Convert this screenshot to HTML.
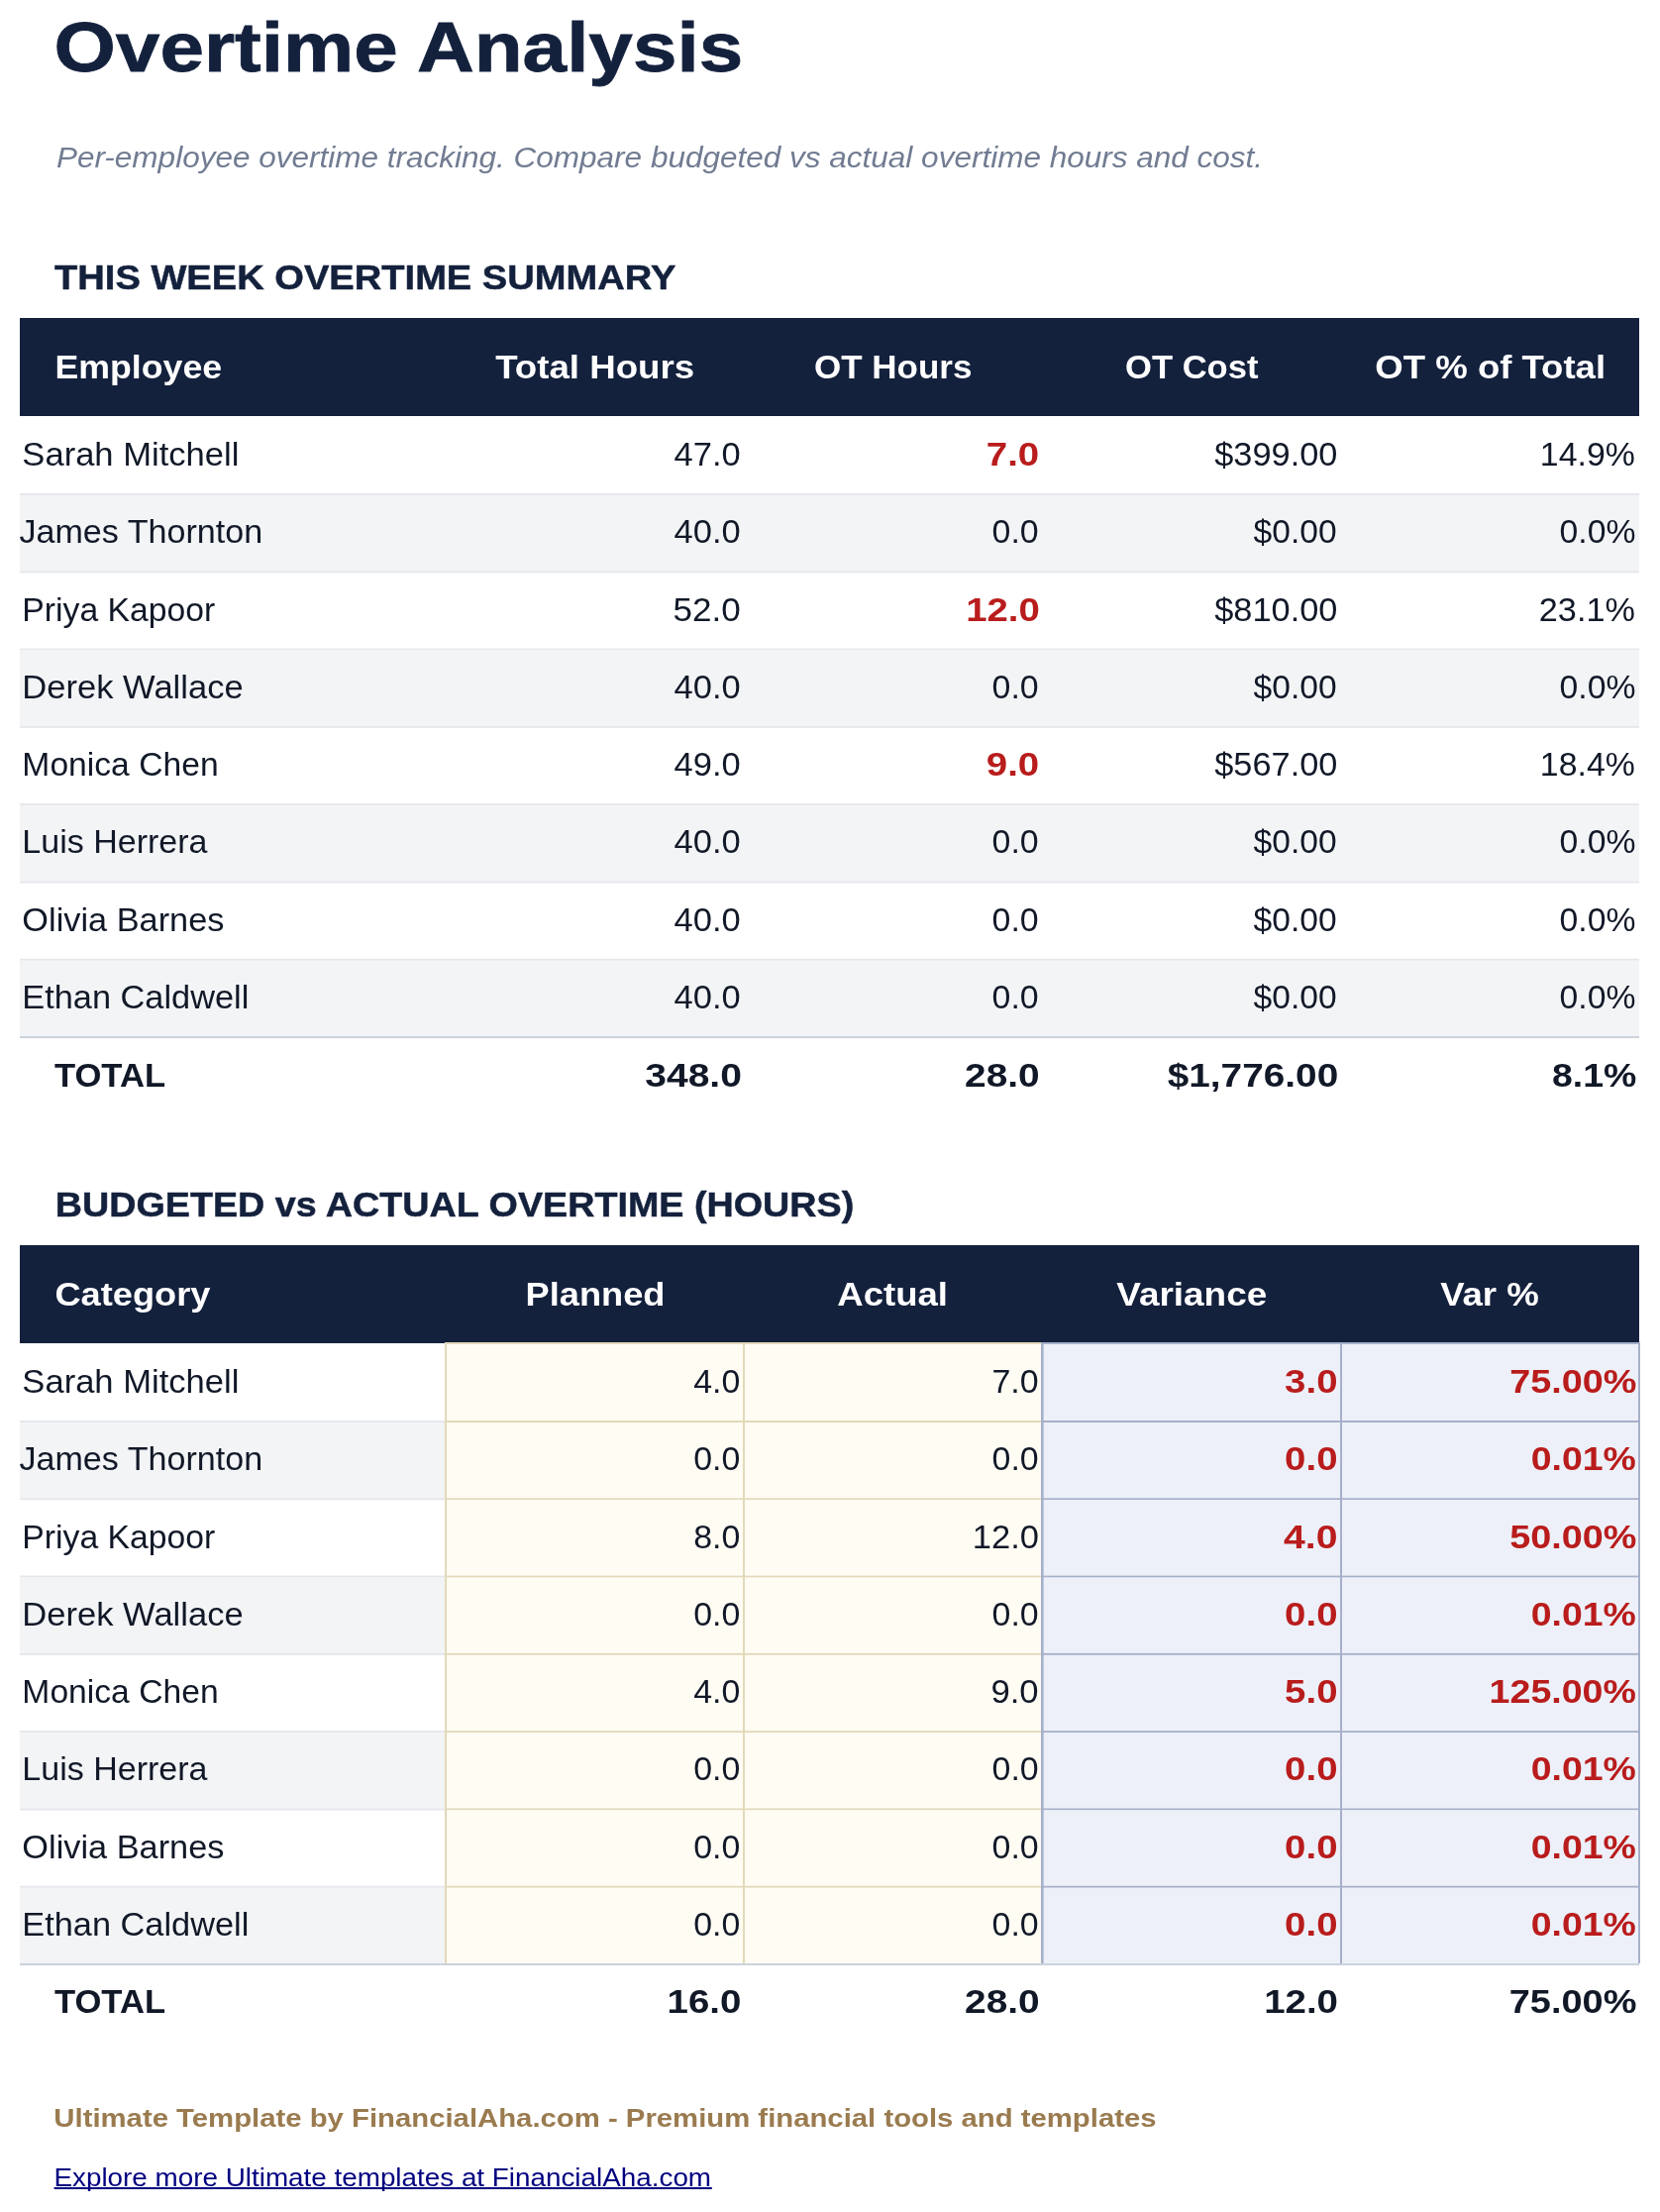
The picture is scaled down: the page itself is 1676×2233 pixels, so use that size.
<!DOCTYPE html>
<html><head><meta charset="utf-8"><title>Overtime Analysis</title>
<style>
html,body{margin:0;padding:0;background:#fff;}
body{width:1676px;height:2233px;overflow:hidden;}
svg{display:block;font-family:"Liberation Sans",sans-serif;will-change:transform;}
</style></head><body>
<svg width="1676" height="2233" viewBox="0 0 1676 2233">
<rect x="0" y="0" width="1676" height="2233" fill="#ffffff"/>
<rect x="20.00" y="321.00" width="1635.00" height="99.00" fill="#14213d"/>
<rect x="20.00" y="498.00" width="1635.00" height="2.00" fill="#e5e7eb"/>
<rect x="20.00" y="500.00" width="1635.00" height="76.29" fill="#f3f4f6"/>
<rect x="20.00" y="576.29" width="1635.00" height="2.00" fill="#e5e7eb"/>
<rect x="20.00" y="654.58" width="1635.00" height="2.00" fill="#e5e7eb"/>
<rect x="20.00" y="656.58" width="1635.00" height="76.29" fill="#f3f4f6"/>
<rect x="20.00" y="732.87" width="1635.00" height="2.00" fill="#e5e7eb"/>
<rect x="20.00" y="811.16" width="1635.00" height="2.00" fill="#e5e7eb"/>
<rect x="20.00" y="813.16" width="1635.00" height="76.29" fill="#f3f4f6"/>
<rect x="20.00" y="889.45" width="1635.00" height="2.00" fill="#e5e7eb"/>
<rect x="20.00" y="967.74" width="1635.00" height="2.00" fill="#e5e7eb"/>
<rect x="20.00" y="969.74" width="1635.00" height="76.29" fill="#f3f4f6"/>
<rect x="20.00" y="1046.03" width="1635.00" height="2.00" fill="#cbd2dc"/>
<rect x="20.00" y="1257.00" width="1635.00" height="99.00" fill="#14213d"/>
<rect x="450.00" y="1356.00" width="602.50" height="78.00" fill="#fffcf3"/>
<rect x="1052.50" y="1356.00" width="602.50" height="78.00" fill="#edf0f8"/>
<rect x="20.00" y="1434.00" width="430.00" height="2.00" fill="#e5e7eb"/>
<rect x="450.00" y="1434.00" width="602.50" height="2.00" fill="#e2d9b9"/>
<rect x="1052.50" y="1434.00" width="602.50" height="2.00" fill="#a6b0ca"/>
<rect x="20.00" y="1436.00" width="430.00" height="76.29" fill="#f3f4f6"/>
<rect x="450.00" y="1436.00" width="602.50" height="76.29" fill="#fffcf3"/>
<rect x="1052.50" y="1436.00" width="602.50" height="76.29" fill="#edf0f8"/>
<rect x="20.00" y="1512.29" width="430.00" height="2.00" fill="#e5e7eb"/>
<rect x="450.00" y="1512.29" width="602.50" height="2.00" fill="#e2d9b9"/>
<rect x="1052.50" y="1512.29" width="602.50" height="2.00" fill="#a6b0ca"/>
<rect x="450.00" y="1514.29" width="602.50" height="76.29" fill="#fffcf3"/>
<rect x="1052.50" y="1514.29" width="602.50" height="76.29" fill="#edf0f8"/>
<rect x="20.00" y="1590.58" width="430.00" height="2.00" fill="#e5e7eb"/>
<rect x="450.00" y="1590.58" width="602.50" height="2.00" fill="#e2d9b9"/>
<rect x="1052.50" y="1590.58" width="602.50" height="2.00" fill="#a6b0ca"/>
<rect x="20.00" y="1592.58" width="430.00" height="76.29" fill="#f3f4f6"/>
<rect x="450.00" y="1592.58" width="602.50" height="76.29" fill="#fffcf3"/>
<rect x="1052.50" y="1592.58" width="602.50" height="76.29" fill="#edf0f8"/>
<rect x="20.00" y="1668.87" width="430.00" height="2.00" fill="#e5e7eb"/>
<rect x="450.00" y="1668.87" width="602.50" height="2.00" fill="#e2d9b9"/>
<rect x="1052.50" y="1668.87" width="602.50" height="2.00" fill="#a6b0ca"/>
<rect x="450.00" y="1670.87" width="602.50" height="76.29" fill="#fffcf3"/>
<rect x="1052.50" y="1670.87" width="602.50" height="76.29" fill="#edf0f8"/>
<rect x="20.00" y="1747.16" width="430.00" height="2.00" fill="#e5e7eb"/>
<rect x="450.00" y="1747.16" width="602.50" height="2.00" fill="#e2d9b9"/>
<rect x="1052.50" y="1747.16" width="602.50" height="2.00" fill="#a6b0ca"/>
<rect x="20.00" y="1749.16" width="430.00" height="76.29" fill="#f3f4f6"/>
<rect x="450.00" y="1749.16" width="602.50" height="76.29" fill="#fffcf3"/>
<rect x="1052.50" y="1749.16" width="602.50" height="76.29" fill="#edf0f8"/>
<rect x="20.00" y="1825.45" width="430.00" height="2.00" fill="#e5e7eb"/>
<rect x="450.00" y="1825.45" width="602.50" height="2.00" fill="#e2d9b9"/>
<rect x="1052.50" y="1825.45" width="602.50" height="2.00" fill="#a6b0ca"/>
<rect x="450.00" y="1827.45" width="602.50" height="76.29" fill="#fffcf3"/>
<rect x="1052.50" y="1827.45" width="602.50" height="76.29" fill="#edf0f8"/>
<rect x="20.00" y="1903.74" width="430.00" height="2.00" fill="#e5e7eb"/>
<rect x="450.00" y="1903.74" width="602.50" height="2.00" fill="#e2d9b9"/>
<rect x="1052.50" y="1903.74" width="602.50" height="2.00" fill="#a6b0ca"/>
<rect x="20.00" y="1905.74" width="430.00" height="76.29" fill="#f3f4f6"/>
<rect x="450.00" y="1905.74" width="602.50" height="76.29" fill="#fffcf3"/>
<rect x="1052.50" y="1905.74" width="602.50" height="76.29" fill="#edf0f8"/>
<rect x="20.00" y="1982.03" width="1635.00" height="2.00" fill="#cbd2dc"/>
<rect x="450.00" y="1355.00" width="602.50" height="2.00" fill="#e2d9b9"/>
<rect x="1052.50" y="1355.00" width="603.50" height="2.00" fill="#a6b0ca"/>
<rect x="449.00" y="1355.00" width="2.00" height="627.03" fill="#e2d9b9"/>
<rect x="750.00" y="1355.00" width="2.00" height="627.03" fill="#e2d9b9"/>
<rect x="1051.00" y="1355.00" width="2.60" height="627.03" fill="#a6b0ca"/>
<rect x="1353.00" y="1355.00" width="2.00" height="627.03" fill="#a6b0ca"/>
<rect x="1654.00" y="1355.00" width="2.00" height="627.03" fill="#a6b0ca"/>
<text x="54.62" y="72.00" font-size="71.05" font-weight="bold" fill="#14213d" stroke="#14213d" stroke-width="0.8" textLength="695.56" lengthAdjust="spacingAndGlyphs">Overtime Analysis</text>
<text x="56.91" y="168.80" font-size="28.92" font-weight="normal" font-style="italic" fill="#717c92" textLength="1218.16" lengthAdjust="spacingAndGlyphs">Per-employee overtime tracking. Compare budgeted vs actual overtime hours and cost.</text>
<text x="55.00" y="292.20" font-size="35.74" font-weight="bold" fill="#14213d" stroke="#14213d" stroke-width="0.5" textLength="627.33" lengthAdjust="spacingAndGlyphs">THIS WEEK OVERTIME SUMMARY</text>
<text x="55.79" y="1228.20" font-size="35.74" font-weight="bold" fill="#14213d" stroke="#14213d" stroke-width="0.5" textLength="806.46" lengthAdjust="spacingAndGlyphs">BUDGETED vs ACTUAL OVERTIME (HOURS)</text>
<text x="55.40" y="382.40" font-size="32.49" font-weight="bold" fill="#ffffff" textLength="168.82" lengthAdjust="spacingAndGlyphs">Employee</text>
<text x="500.20" y="382.40" font-size="32.49" font-weight="bold" fill="#ffffff" textLength="201.00" lengthAdjust="spacingAndGlyphs">Total Hours</text>
<text x="822.02" y="382.40" font-size="32.49" font-weight="bold" fill="#ffffff" textLength="159.45" lengthAdjust="spacingAndGlyphs">OT Hours</text>
<text x="1136.04" y="382.40" font-size="32.49" font-weight="bold" fill="#ffffff" textLength="134.41" lengthAdjust="spacingAndGlyphs">OT Cost</text>
<text x="1388.38" y="382.40" font-size="32.49" font-weight="bold" fill="#ffffff" textLength="232.69" lengthAdjust="spacingAndGlyphs">OT % of Total</text>
<text x="55.49" y="1318.40" font-size="32.49" font-weight="bold" fill="#ffffff" textLength="156.91" lengthAdjust="spacingAndGlyphs">Category</text>
<text x="530.58" y="1318.40" font-size="32.49" font-weight="bold" fill="#ffffff" textLength="140.86" lengthAdjust="spacingAndGlyphs">Planned</text>
<text x="845.34" y="1318.40" font-size="32.49" font-weight="bold" fill="#ffffff" textLength="111.69" lengthAdjust="spacingAndGlyphs">Actual</text>
<text x="1127.36" y="1318.40" font-size="32.49" font-weight="bold" fill="#ffffff" textLength="151.88" lengthAdjust="spacingAndGlyphs">Variance</text>
<text x="1454.20" y="1318.40" font-size="32.49" font-weight="bold" fill="#ffffff" textLength="99.56" lengthAdjust="spacingAndGlyphs">Var %</text>
<text x="22.36" y="470.00" font-size="32.38" font-weight="normal" fill="#111827" textLength="219.02" lengthAdjust="spacingAndGlyphs">Sarah Mitchell</text>
<text x="680.61" y="470.00" font-size="32.38" font-weight="normal" fill="#111827" textLength="67.15" lengthAdjust="spacingAndGlyphs">47.0</text>
<text x="995.82" y="470.00" font-size="32.38" font-weight="bold" fill="#b91c1c" textLength="53.39" lengthAdjust="spacingAndGlyphs">7.0</text>
<text x="1226.29" y="470.00" font-size="32.38" font-weight="normal" fill="#111827" textLength="124.09" lengthAdjust="spacingAndGlyphs">$399.00</text>
<text x="1554.88" y="470.00" font-size="32.38" font-weight="normal" fill="#111827" textLength="95.94" lengthAdjust="spacingAndGlyphs">14.9%</text>
<text x="22.36" y="1406.00" font-size="32.38" font-weight="normal" fill="#111827" textLength="219.02" lengthAdjust="spacingAndGlyphs">Sarah Mitchell</text>
<text x="700.27" y="1406.00" font-size="32.38" font-weight="normal" fill="#111827" textLength="47.11" lengthAdjust="spacingAndGlyphs">4.0</text>
<text x="1001.50" y="1406.00" font-size="32.38" font-weight="normal" fill="#111827" textLength="47.16" lengthAdjust="spacingAndGlyphs">7.0</text>
<text x="1297.12" y="1406.00" font-size="32.38" font-weight="bold" fill="#b91c1c" textLength="53.39" lengthAdjust="spacingAndGlyphs">3.0</text>
<text x="1524.27" y="1406.00" font-size="32.38" font-weight="bold" fill="#b91c1c" textLength="128.11" lengthAdjust="spacingAndGlyphs">75.00%</text>
<text x="19.45" y="548.29" font-size="32.38" font-weight="normal" fill="#111827" textLength="245.72" lengthAdjust="spacingAndGlyphs">James Thornton</text>
<text x="680.61" y="548.29" font-size="32.38" font-weight="normal" fill="#111827" textLength="67.15" lengthAdjust="spacingAndGlyphs">40.0</text>
<text x="1001.55" y="548.29" font-size="32.38" font-weight="normal" fill="#111827" textLength="47.11" lengthAdjust="spacingAndGlyphs">0.0</text>
<text x="1265.60" y="548.29" font-size="32.38" font-weight="normal" fill="#111827" textLength="84.07" lengthAdjust="spacingAndGlyphs">$0.00</text>
<text x="1574.58" y="548.29" font-size="32.38" font-weight="normal" fill="#111827" textLength="76.87" lengthAdjust="spacingAndGlyphs">0.0%</text>
<text x="19.45" y="1484.29" font-size="32.38" font-weight="normal" fill="#111827" textLength="245.72" lengthAdjust="spacingAndGlyphs">James Thornton</text>
<text x="700.27" y="1484.29" font-size="32.38" font-weight="normal" fill="#111827" textLength="47.11" lengthAdjust="spacingAndGlyphs">0.0</text>
<text x="1001.55" y="1484.29" font-size="32.38" font-weight="normal" fill="#111827" textLength="47.11" lengthAdjust="spacingAndGlyphs">0.0</text>
<text x="1297.12" y="1484.29" font-size="32.38" font-weight="bold" fill="#b91c1c" textLength="53.39" lengthAdjust="spacingAndGlyphs">0.0</text>
<text x="1545.78" y="1484.29" font-size="32.38" font-weight="bold" fill="#b91c1c" textLength="106.09" lengthAdjust="spacingAndGlyphs">0.01%</text>
<text x="22.37" y="626.58" font-size="32.38" font-weight="normal" fill="#111827" textLength="194.99" lengthAdjust="spacingAndGlyphs">Priya Kapoor</text>
<text x="679.51" y="626.58" font-size="32.38" font-weight="normal" fill="#111827" textLength="68.27" lengthAdjust="spacingAndGlyphs">52.0</text>
<text x="975.15" y="626.58" font-size="32.38" font-weight="bold" fill="#b91c1c" textLength="74.57" lengthAdjust="spacingAndGlyphs">12.0</text>
<text x="1226.29" y="626.58" font-size="32.38" font-weight="normal" fill="#111827" textLength="124.09" lengthAdjust="spacingAndGlyphs">$810.00</text>
<text x="1553.85" y="626.58" font-size="32.38" font-weight="normal" fill="#111827" textLength="96.97" lengthAdjust="spacingAndGlyphs">23.1%</text>
<text x="22.37" y="1562.58" font-size="32.38" font-weight="normal" fill="#111827" textLength="194.99" lengthAdjust="spacingAndGlyphs">Priya Kapoor</text>
<text x="700.27" y="1562.58" font-size="32.38" font-weight="normal" fill="#111827" textLength="47.11" lengthAdjust="spacingAndGlyphs">8.0</text>
<text x="981.82" y="1562.58" font-size="32.38" font-weight="normal" fill="#111827" textLength="67.22" lengthAdjust="spacingAndGlyphs">12.0</text>
<text x="1296.10" y="1562.58" font-size="32.38" font-weight="bold" fill="#b91c1c" textLength="54.44" lengthAdjust="spacingAndGlyphs">4.0</text>
<text x="1524.27" y="1562.58" font-size="32.38" font-weight="bold" fill="#b91c1c" textLength="128.11" lengthAdjust="spacingAndGlyphs">50.00%</text>
<text x="22.30" y="704.87" font-size="32.38" font-weight="normal" fill="#111827" textLength="223.40" lengthAdjust="spacingAndGlyphs">Derek Wallace</text>
<text x="680.61" y="704.87" font-size="32.38" font-weight="normal" fill="#111827" textLength="67.15" lengthAdjust="spacingAndGlyphs">40.0</text>
<text x="1001.55" y="704.87" font-size="32.38" font-weight="normal" fill="#111827" textLength="47.11" lengthAdjust="spacingAndGlyphs">0.0</text>
<text x="1265.60" y="704.87" font-size="32.38" font-weight="normal" fill="#111827" textLength="84.07" lengthAdjust="spacingAndGlyphs">$0.00</text>
<text x="1574.58" y="704.87" font-size="32.38" font-weight="normal" fill="#111827" textLength="76.87" lengthAdjust="spacingAndGlyphs">0.0%</text>
<text x="22.30" y="1640.87" font-size="32.38" font-weight="normal" fill="#111827" textLength="223.40" lengthAdjust="spacingAndGlyphs">Derek Wallace</text>
<text x="700.27" y="1640.87" font-size="32.38" font-weight="normal" fill="#111827" textLength="47.11" lengthAdjust="spacingAndGlyphs">0.0</text>
<text x="1001.55" y="1640.87" font-size="32.38" font-weight="normal" fill="#111827" textLength="47.11" lengthAdjust="spacingAndGlyphs">0.0</text>
<text x="1297.12" y="1640.87" font-size="32.38" font-weight="bold" fill="#b91c1c" textLength="53.39" lengthAdjust="spacingAndGlyphs">0.0</text>
<text x="1545.78" y="1640.87" font-size="32.38" font-weight="bold" fill="#b91c1c" textLength="106.09" lengthAdjust="spacingAndGlyphs">0.01%</text>
<text x="22.38" y="783.16" font-size="32.38" font-weight="normal" fill="#111827" textLength="198.25" lengthAdjust="spacingAndGlyphs">Monica Chen</text>
<text x="680.61" y="783.16" font-size="32.38" font-weight="normal" fill="#111827" textLength="67.15" lengthAdjust="spacingAndGlyphs">49.0</text>
<text x="995.82" y="783.16" font-size="32.38" font-weight="bold" fill="#b91c1c" textLength="53.39" lengthAdjust="spacingAndGlyphs">9.0</text>
<text x="1226.29" y="783.16" font-size="32.38" font-weight="normal" fill="#111827" textLength="124.09" lengthAdjust="spacingAndGlyphs">$567.00</text>
<text x="1554.88" y="783.16" font-size="32.38" font-weight="normal" fill="#111827" textLength="95.94" lengthAdjust="spacingAndGlyphs">18.4%</text>
<text x="22.38" y="1719.16" font-size="32.38" font-weight="normal" fill="#111827" textLength="198.25" lengthAdjust="spacingAndGlyphs">Monica Chen</text>
<text x="700.27" y="1719.16" font-size="32.38" font-weight="normal" fill="#111827" textLength="47.11" lengthAdjust="spacingAndGlyphs">4.0</text>
<text x="1000.45" y="1719.16" font-size="32.38" font-weight="normal" fill="#111827" textLength="48.23" lengthAdjust="spacingAndGlyphs">9.0</text>
<text x="1297.12" y="1719.16" font-size="32.38" font-weight="bold" fill="#b91c1c" textLength="53.39" lengthAdjust="spacingAndGlyphs">5.0</text>
<text x="1503.63" y="1719.16" font-size="32.38" font-weight="bold" fill="#b91c1c" textLength="148.26" lengthAdjust="spacingAndGlyphs">125.00%</text>
<text x="22.35" y="861.45" font-size="32.38" font-weight="normal" fill="#111827" textLength="187.10" lengthAdjust="spacingAndGlyphs">Luis Herrera</text>
<text x="680.61" y="861.45" font-size="32.38" font-weight="normal" fill="#111827" textLength="67.15" lengthAdjust="spacingAndGlyphs">40.0</text>
<text x="1001.55" y="861.45" font-size="32.38" font-weight="normal" fill="#111827" textLength="47.11" lengthAdjust="spacingAndGlyphs">0.0</text>
<text x="1265.60" y="861.45" font-size="32.38" font-weight="normal" fill="#111827" textLength="84.07" lengthAdjust="spacingAndGlyphs">$0.00</text>
<text x="1574.58" y="861.45" font-size="32.38" font-weight="normal" fill="#111827" textLength="76.87" lengthAdjust="spacingAndGlyphs">0.0%</text>
<text x="22.35" y="1797.45" font-size="32.38" font-weight="normal" fill="#111827" textLength="187.10" lengthAdjust="spacingAndGlyphs">Luis Herrera</text>
<text x="700.27" y="1797.45" font-size="32.38" font-weight="normal" fill="#111827" textLength="47.11" lengthAdjust="spacingAndGlyphs">0.0</text>
<text x="1001.55" y="1797.45" font-size="32.38" font-weight="normal" fill="#111827" textLength="47.11" lengthAdjust="spacingAndGlyphs">0.0</text>
<text x="1297.12" y="1797.45" font-size="32.38" font-weight="bold" fill="#b91c1c" textLength="53.39" lengthAdjust="spacingAndGlyphs">0.0</text>
<text x="1545.78" y="1797.45" font-size="32.38" font-weight="bold" fill="#b91c1c" textLength="106.09" lengthAdjust="spacingAndGlyphs">0.01%</text>
<text x="22.38" y="939.74" font-size="32.38" font-weight="normal" fill="#111827" textLength="204.04" lengthAdjust="spacingAndGlyphs">Olivia Barnes</text>
<text x="680.61" y="939.74" font-size="32.38" font-weight="normal" fill="#111827" textLength="67.15" lengthAdjust="spacingAndGlyphs">40.0</text>
<text x="1001.55" y="939.74" font-size="32.38" font-weight="normal" fill="#111827" textLength="47.11" lengthAdjust="spacingAndGlyphs">0.0</text>
<text x="1265.60" y="939.74" font-size="32.38" font-weight="normal" fill="#111827" textLength="84.07" lengthAdjust="spacingAndGlyphs">$0.00</text>
<text x="1574.58" y="939.74" font-size="32.38" font-weight="normal" fill="#111827" textLength="76.87" lengthAdjust="spacingAndGlyphs">0.0%</text>
<text x="22.38" y="1875.74" font-size="32.38" font-weight="normal" fill="#111827" textLength="204.04" lengthAdjust="spacingAndGlyphs">Olivia Barnes</text>
<text x="700.27" y="1875.74" font-size="32.38" font-weight="normal" fill="#111827" textLength="47.11" lengthAdjust="spacingAndGlyphs">0.0</text>
<text x="1001.55" y="1875.74" font-size="32.38" font-weight="normal" fill="#111827" textLength="47.11" lengthAdjust="spacingAndGlyphs">0.0</text>
<text x="1297.12" y="1875.74" font-size="32.38" font-weight="bold" fill="#b91c1c" textLength="53.39" lengthAdjust="spacingAndGlyphs">0.0</text>
<text x="1545.78" y="1875.74" font-size="32.38" font-weight="bold" fill="#b91c1c" textLength="106.09" lengthAdjust="spacingAndGlyphs">0.01%</text>
<text x="22.32" y="1018.03" font-size="32.38" font-weight="normal" fill="#111827" textLength="228.97" lengthAdjust="spacingAndGlyphs">Ethan Caldwell</text>
<text x="680.61" y="1018.03" font-size="32.38" font-weight="normal" fill="#111827" textLength="67.15" lengthAdjust="spacingAndGlyphs">40.0</text>
<text x="1001.55" y="1018.03" font-size="32.38" font-weight="normal" fill="#111827" textLength="47.11" lengthAdjust="spacingAndGlyphs">0.0</text>
<text x="1265.60" y="1018.03" font-size="32.38" font-weight="normal" fill="#111827" textLength="84.07" lengthAdjust="spacingAndGlyphs">$0.00</text>
<text x="1574.58" y="1018.03" font-size="32.38" font-weight="normal" fill="#111827" textLength="76.87" lengthAdjust="spacingAndGlyphs">0.0%</text>
<text x="22.32" y="1954.03" font-size="32.38" font-weight="normal" fill="#111827" textLength="228.97" lengthAdjust="spacingAndGlyphs">Ethan Caldwell</text>
<text x="700.27" y="1954.03" font-size="32.38" font-weight="normal" fill="#111827" textLength="47.11" lengthAdjust="spacingAndGlyphs">0.0</text>
<text x="1001.55" y="1954.03" font-size="32.38" font-weight="normal" fill="#111827" textLength="47.11" lengthAdjust="spacingAndGlyphs">0.0</text>
<text x="1297.12" y="1954.03" font-size="32.38" font-weight="bold" fill="#b91c1c" textLength="53.39" lengthAdjust="spacingAndGlyphs">0.0</text>
<text x="1545.78" y="1954.03" font-size="32.38" font-weight="bold" fill="#b91c1c" textLength="106.09" lengthAdjust="spacingAndGlyphs">0.01%</text>
<text x="54.90" y="1096.80" font-size="32.49" font-weight="bold" fill="#111827" textLength="112.25" lengthAdjust="spacingAndGlyphs">TOTAL</text>
<text x="651.20" y="1096.80" font-size="32.49" font-weight="bold" fill="#111827" textLength="97.76" lengthAdjust="spacingAndGlyphs">348.0</text>
<text x="974.04" y="1096.80" font-size="32.49" font-weight="bold" fill="#111827" textLength="75.67" lengthAdjust="spacingAndGlyphs">28.0</text>
<text x="1178.71" y="1096.80" font-size="32.49" font-weight="bold" fill="#111827" textLength="172.50" lengthAdjust="spacingAndGlyphs">$1,776.00</text>
<text x="1566.97" y="1096.80" font-size="32.49" font-weight="bold" fill="#111827" textLength="85.36" lengthAdjust="spacingAndGlyphs">8.1%</text>
<text x="54.90" y="2032.30" font-size="32.49" font-weight="bold" fill="#111827" textLength="112.25" lengthAdjust="spacingAndGlyphs">TOTAL</text>
<text x="673.59" y="2032.30" font-size="32.49" font-weight="bold" fill="#111827" textLength="74.83" lengthAdjust="spacingAndGlyphs">16.0</text>
<text x="974.04" y="2032.30" font-size="32.49" font-weight="bold" fill="#111827" textLength="75.67" lengthAdjust="spacingAndGlyphs">28.0</text>
<text x="1276.18" y="2032.30" font-size="32.49" font-weight="bold" fill="#111827" textLength="74.83" lengthAdjust="spacingAndGlyphs">12.0</text>
<text x="1523.81" y="2032.30" font-size="32.49" font-weight="bold" fill="#111827" textLength="128.55" lengthAdjust="spacingAndGlyphs">75.00%</text>
<text x="54.33" y="2146.50" font-size="25.78" font-weight="bold" fill="#9a7b4f" textLength="1113.23" lengthAdjust="spacingAndGlyphs">Ultimate Template by FinancialAha.com - Premium financial tools and templates</text>
<text x="54.44" y="2206.70" font-size="25.78" font-weight="normal" fill="#000080" textLength="663.61" lengthAdjust="spacingAndGlyphs">Explore more Ultimate templates at FinancialAha.com</text>
<rect x="54.60" y="2208.00" width="664.20" height="2.00" fill="#000080"/>
</svg>
</body></html>
